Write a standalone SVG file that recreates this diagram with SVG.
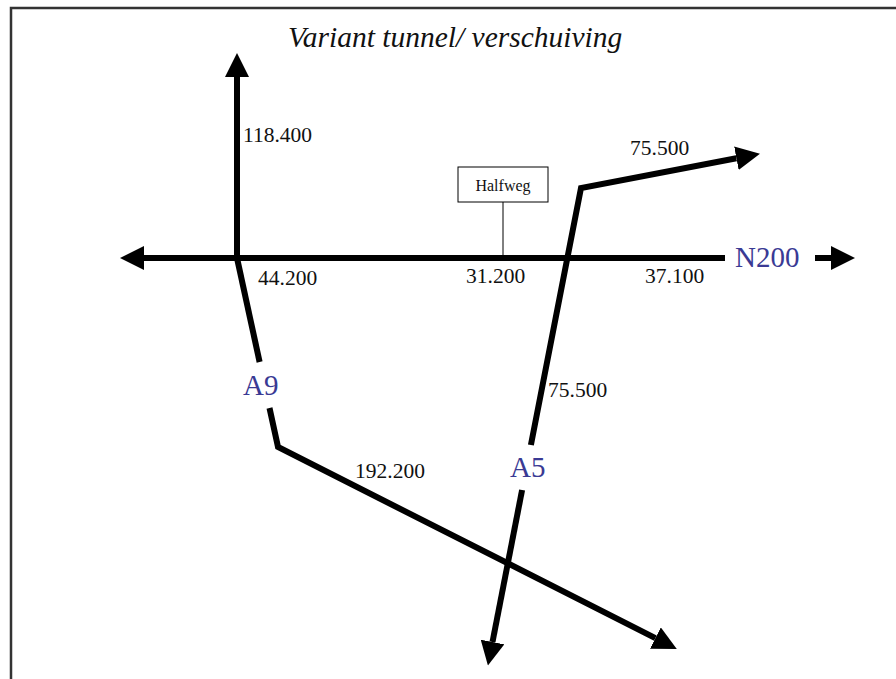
<svg xmlns="http://www.w3.org/2000/svg" width="896" height="679" viewBox="0 0 896 679">
<style>
.road{fill:none;stroke:#000;stroke-width:6;stroke-linejoin:miter}
.num{font-family:"Liberation Serif",serif;font-size:21.5px;fill:#111}
.rl{font-family:"Liberation Serif",serif;font-size:29px;fill:#3a3a94}
.title{font-family:"Liberation Serif",serif;font-style:italic;font-size:29.5px;fill:#111}
</style>
<defs>
<marker id="ah" markerUnits="userSpaceOnUse" markerWidth="24" markerHeight="24" refX="0" refY="11" orient="auto" viewBox="0 0 22 22">
<path d="M0,0 L22,11 L0,22 Z" fill="#000"/>
</marker>
</defs>
<rect width="896" height="679" fill="#fff"/>
<path d="M11,679 V8 H896" fill="none" stroke="#333" stroke-width="2.5"/>
<text class="title" x="288" y="47">Variant tunnel/ verschuiving</text>
<g id="connectors">
<path class="road" d="M237,258 V77" marker-end="url(#ah)"/>
<path class="road" d="M725,258 H144" marker-end="url(#ah)"/>
<path class="road" d="M815,258 H831" marker-end="url(#ah)"/>
<path class="road" d="M530.9,445 L581,188 L736.4,158.2" marker-end="url(#ah)"/>
<path class="road" d="M522.1,490 L492.5,642" marker-end="url(#ah)"/>
<path class="road" d="M237,258 L259.6,362"/>
<path class="road" d="M269.5,408 L278,447 L655.4,638.1" marker-end="url(#ah)"/>
<line x1="503" y1="202" x2="503" y2="258" stroke="#000" stroke-width="1"/>
</g>
<g id="halfweg">
<rect x="458" y="167" width="90" height="35" fill="#fff" stroke="#000" stroke-width="1"/>
<text x="503" y="191" text-anchor="middle" font-family="Liberation Serif, serif" font-size="16" fill="#111">Halfweg</text>
</g>
<g id="labels">
<text class="num" x="243" y="142">118.400</text>
<text class="num" x="258" y="285">44.200</text>
<text class="num" x="466" y="283">31.200</text>
<text class="num" x="645" y="283">37.100</text>
<text class="num" x="630" y="155">75.500</text>
<text class="num" x="548" y="397">75.500</text>
<text class="num" x="355" y="478">192.200</text>
</g>
<g id="road-names">
<text class="rl" x="735" y="267">N200</text>
<text class="rl" x="243" y="395">A9</text>
<text class="rl" x="510" y="477">A5</text>
</g>
</svg>
